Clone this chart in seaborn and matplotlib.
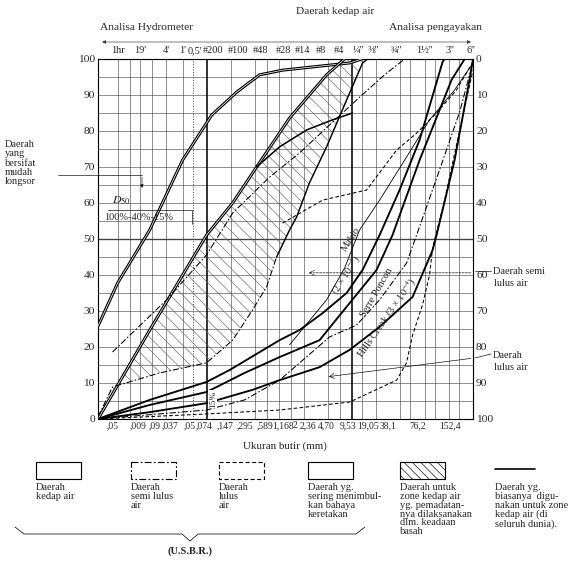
import numpy as np
import pandas as pd
import matplotlib
matplotlib.use("Agg")
import matplotlib.pyplot as plt
import matplotlib.patheffects as pe
from matplotlib.patches import Rectangle
import seaborn as sns

sns.set_theme(style="white")
plt.rcParams["font.family"] = ["Liberation Serif", "DejaVu Serif"]
plt.rcParams["mathtext.fontset"] = "stix"
plt.rcParams["hatch.linewidth"] = 0.6

# ---- curves: grain size (mm) vs percent finer ----
band_a_mm = [0.0033, 0.0058, 0.0145, 0.0372, 0.0854, 0.175, 0.338, 0.652, 4.45, 6.27]
band_a_pct = [25.8, 37.8, 52.5, 71.9, 84.4, 90.8, 95.6, 96.9, 98.9, 100]

band_b_mm = [0.0033, 0.0145, 0.0342, 0.074, 0.156, 0.310, 0.797, 2.30, 3.85]
band_b_pct = [0, 24.7, 38.6, 51.1, 60.0, 70.0, 83.6, 95.6, 100]

band_b2_mm = [0.310, 0.599, 1.30, 2.73, 4.84]
band_b2_pct = [70.0, 75.6, 80.3, 83.1, 85.0]

wet_mm = [0.0033, 0.0050, 0.0193, 0.074, 0.156, 0.276, 0.413, 0.549, 0.797, 0.974, 1.41, 2.30, 4.08, 6.45, 7.44]
wet_pct = [0.6, 8.9, 12.8, 15.6, 21.9, 30.3, 36.7, 45.0, 52.5, 56.1, 65.6, 75.6, 88.6, 98.9, 100]

semi_hi_mm = [0.0050, 0.0235, 0.074, 0.156, 0.450, 1.06, 2.51, 5.92, 12.1, 21.5]
semi_hi_pct = [18.6, 33.1, 45.6, 57.2, 67.2, 73.9, 81.7, 89.4, 95.6, 100]

semi_lo_mm = [0.0033, 0.074, 0.220, 0.599, 2.51, 5.43, 10.5, 22.7, 30.3, 58.5, 104, 152.4]
semi_lo_pct = [0, 2.5, 5.3, 10.8, 22.8, 26.1, 33.1, 43.3, 51.1, 69.2, 85.3, 99.2]

free_hi_mm = [0.652, 2.05, 7.23, 17.1, 30.3, 53.7, 95.2, 152.4]
free_hi_pct = [54.4, 60.8, 63.6, 74.7, 79.4, 85.0, 91.4, 99.2]

free_lo_mm = [0.0033, 0.074, 0.599, 4.45, 17.1, 22.7, 27.0, 35.9, 43.9, 47.9, 67.5, 98.0, 130, 152.4]
free_lo_pct = [0, 1.4, 2.5, 4.7, 10.8, 15.6, 23.3, 31.7, 40.0, 47.5, 60.8, 77.5, 90.0, 96.9]

crack_mm = [0.797, 2.30, 3.85, 5.92, 10.5, 21.5, 43.9, 89.9, 152.4]
crack_pct = [20.6, 33.1, 41.9, 52.5, 60.8, 71.9, 83.1, 91.4, 98.9]

makio_mm = [0.0033, 0.0145, 0.074, 0.143, 0.599, 1.06, 2.05, 4.08, 6.45, 10.5, 18.6, 33.0, 63.8, 67.5]
makio_pct = [0, 5.3, 10.3, 13.6, 21.9, 24.7, 29.4, 35.0, 41.4, 51.1, 63.6, 77.5, 99.2, 100]

serre_mm = [0.0033, 0.0145, 0.074, 0.220, 0.599, 1.88, 4.45, 9.63, 15.2, 33.0, 82.5, 120]
serre_pct = [0, 3.9, 7.5, 12.8, 17.2, 21.9, 32.2, 41.4, 51.1, 71.9, 94.2, 100]

hills_mm = [0.0033, 0.0145, 0.074, 0.276, 0.599, 1.88, 4.45, 10.5, 27.0, 47.9, 53.7, 89.9, 138, 152.4]
hills_pct = [0, 1.9, 4.4, 8.1, 10.8, 14.4, 19.2, 25.6, 33.9, 46.9, 51.1, 71.9, 94.2, 100]

# axis labels
top_labels = ["1hr", "19'", "4'", "1'", "0,5'", "#200", "#100", "#48", "#28", "#14", "#8",
              "#4", "¼''", "⅜''", "¾''", "1½''", "3''", "6''"]
top_pos = [0.0058, 0.0109, 0.0235, 0.0372, 0.0525, 0.0879, 0.180, 0.348, 0.671, 1.157, 1.937,
           3.3, 5.7, 8.9, 17.1, 38.1, 77.9, 142]
bottom_labels = [",05", ",009", ",09", ",037", ",05", ",074", ",147", ",295", ",589", "1,168",
                 "2", "2,36", "4,70", "9,53", "19,05", "38,1", "76,2", "152,4"]
bottom_pos = [0.0050, 0.0103, 0.0167, 0.0257, 0.0455, 0.0699, 0.1275, 0.2197, 0.3897, 0.6523,
              0.920, 1.335, 2.30, 4.197, 7.44, 13.2, 31.2, 77.9]
grid_x = [0.0058, 0.0082, 0.0109, 0.0155, 0.0229, 0.0372, 0.149, 0.297, 0.42, 0.595, 0.84,
          1.19, 2.38, 3.36, 6.35, 9.53, 19.05, 25.4, 38.1, 50.8, 76.2, 101.6]

legend_texts = ["Daerah\nkedap air",
                "Daerah\nsemi lulus\nair",
                "Daerah\nlulus\nair",
                "Daerah yg.\nsering menimbul-\nkan bahaya\nkeretakan",
                "Daerah untuk\nzone kedap air\nyg. pemadatan-\nnya dilaksanakan\ndlm. keadaan\nbasah",
                "Daerah yg.\nbiasanya  digu-\nnakan untuk zone\nkedap air (di\nseluruh dunia)."]

DASHDOT = (0, (6, 2, 1.5, 2))
DASHED = (0, (3.5, 2.2))

fig = plt.figure(figsize=(586 / 75, 564 / 75), dpi=75)
ax = fig.add_axes([98 / 586, 1 - 419 / 564, 375 / 586, 360 / 564])
ax.set_xscale("log")
ax.set_xlim(0.0033, 152.4)
ax.set_ylim(0, 100)

# grid
for v in range(5, 100, 5):
    ax.axhline(v, color="0.25", lw=1.3 if v == 50 else 0.55, zorder=1)
for v in grid_x:
    ax.axvline(v, color="0.25", lw=0.55, zorder=1)
ax.axvline(0.074, color="black", lw=1.5, zorder=1)
ax.axvline(4.76, color="black", lw=1.5, zorder=1)
ax.axvline(0.05, color="0.3", lw=1.0, ls=(0, (1, 1.5)), zorder=1)

# hatched zone (wet compaction)
poly_x = band_b_mm + wet_mm[::-1]
poly_y = band_b_pct + wet_pct[::-1]
ax.fill(poly_x, poly_y, facecolor="none", edgecolor="0.4", hatch="\\\\", lw=0, zorder=2)


def draw(mm, pct, **kw):
    kw.setdefault("color", "black")
    sns.lineplot(x=mm, y=pct, sort=False, estimator=None, ax=ax, legend=False, zorder=3, **kw)


double = dict(color="white", lw=0.7,
              path_effects=[pe.Stroke(linewidth=2.9, foreground="black"), pe.Normal()])
draw(band_a_mm, band_a_pct, **double)
draw(band_b_mm, band_b_pct, **double)
draw(band_b2_mm, band_b2_pct, lw=1.5)
draw(wet_mm[:8], wet_pct[:8], lw=1.0, linestyle=DASHDOT)
draw(wet_mm[7:], wet_pct[7:], lw=1.4)
draw(semi_hi_mm, semi_hi_pct, lw=1.0, linestyle=DASHDOT)
draw(semi_lo_mm, semi_lo_pct, lw=1.0, linestyle=DASHDOT)
draw(free_hi_mm, free_hi_pct, lw=1.0, linestyle=DASHED)
draw(free_lo_mm, free_lo_pct, lw=1.0, linestyle=DASHED)
draw(crack_mm, crack_pct, lw=0.8)
draw(makio_mm, makio_pct, lw=1.8)
draw(serre_mm, serre_pct, lw=1.8)
draw(hills_mm, hills_pct, lw=1.8)

# curve labels
lbl = dict(fontsize=10, ha="center", va="center", zorder=4)
ax.text(4.6, 50, "Makio", rotation=57, **lbl)
ax.text(4.1, 40.0, "(2 × 10$^{-4}$)", rotation=58, **lbl)
ax.text(9.6, 35, "Serre Poncon", rotation=60, **lbl)
ax.text(13.2, 28, "Hills Creek (3 × 10$^{-4}$)", rotation=55, **lbl)
ax.text(0.088, 5.5, "15%", rotation=90, fontsize=9, ha="center", va="center", zorder=4,
        bbox=dict(facecolor="white", edgecolor="none", pad=0.3))
ax.annotate("", xy=(1.30, 40.6), xytext=(152.4, 40.6),
            arrowprops=dict(arrowstyle="->", lw=0.6, ls="--", color="black"))
ax.annotate("", xy=(2.30, 11.7), xytext=(152.4, 16.9),
            arrowprops=dict(arrowstyle="->", lw=0.6, color="black"))

# axes styling
ax.set_yticks(range(0, 101, 10))
ax.set_xticks(bottom_pos, bottom_labels)
ax.set_xticks([], minor=True)
ax.tick_params(axis="y", length=0, pad=3, labelsize=11)
ax.tick_params(axis="x", length=0, pad=2, labelsize=9.2)
for s in ax.spines.values():
    s.set_color("black")
    s.set_linewidth(1.1)
for lab, pos in zip(top_labels, top_pos):
    ax.text(pos, 101.0, lab, ha="center", va="bottom", fontsize=9.8)

ax2 = ax.twinx()
ax2.set_ylim(100, 0)
ax2.set_yticks(range(0, 101, 10))
ax2.tick_params(axis="y", length=0, pad=3, labelsize=11)
ax2.grid(False)
for s in ax2.spines.values():
    s.set_visible(False)

# overlay in pixel units for annotations and legend
ov = fig.add_axes([0, 0, 1, 1], zorder=5)
ov.set_xlim(0, 586)
ov.set_ylim(564, 0)
ov.axis("off")
ov.patch.set_alpha(0)

ov.text(100, 27, "Analisa Hydrometer", fontsize=11, va="center")
ov.text(335, 12, "Daerah kedap air", fontsize=11, va="center", ha="center")
ov.text(482, 28, "Analisa pengayakan", fontsize=11, va="center", ha="right")
ov.annotate("", xy=(100, 42), xytext=(473, 42),
            arrowprops=dict(arrowstyle="<|-|>", lw=0.6, color="0.2", mutation_scale=7))

ov.text(5, 140, "Daerah\nyang\nbersifat\nmudah\nlongsor", fontsize=10, va="top", linespacing=1.05)
ov.plot([58, 142], [175, 175], color="black", lw=0.6)
ov.annotate("", xy=(142, 190), xytext=(142, 175),
            arrowprops=dict(arrowstyle="-|>", lw=0.6, color="black", mutation_scale=6))
ov.text(112, 201, "$D_{50}$", fontsize=11.5, va="center")
ov.plot([108, 192, 192], [210, 210, 224], color="black", lw=0.6)
ov.text(104, 217, "100%-40%-15%", fontsize=10, va="center")

ov.plot([475, 491], [271, 271], color="black", lw=0.6)
ov.text(493, 271, "Daerah semi", fontsize=10, va="center")
ov.text(494, 284, "lulus air", fontsize=10, va="center")
ov.plot([475, 491], [358, 354], color="black", lw=0.6)
ov.text(493, 355, "Daerah", fontsize=10, va="center")
ov.text(494, 368, "lulus air", fontsize=10, va="center")

ov.text(285, 446, "Ukuran butir (mm)", fontsize=10.5, ha="center", va="center")

# legend
box_x = [36, 131, 219, 308, 400]
box_styles = ["-", DASHDOT, DASHED, "-", "-"]
for i, (bx, st) in enumerate(zip(box_x, box_styles)):
    hatched = i == 4
    ov.add_patch(Rectangle((bx, 462), 45, 17, fill=False, lw=1.1, ls=st,
                           edgecolor="black", hatch="\\\\\\" if hatched else None))
    ov.text(bx, 483, legend_texts[i], fontsize=10, va="top", linespacing=0.98)
ov.plot([495, 535], [469, 469], color="black", lw=1.6)
ov.text(495, 483, legend_texts[5], fontsize=10, va="top", linespacing=0.98)

ov.plot([15, 24, 182, 190, 198, 356, 365], [527, 534, 534, 541, 534, 534, 527], color="black", lw=0.7)
ov.text(190, 551, "(U.S.B.R.)", fontsize=10, ha="center", va="center", fontweight="bold")

fig.savefig("out.png", dpi=75)
